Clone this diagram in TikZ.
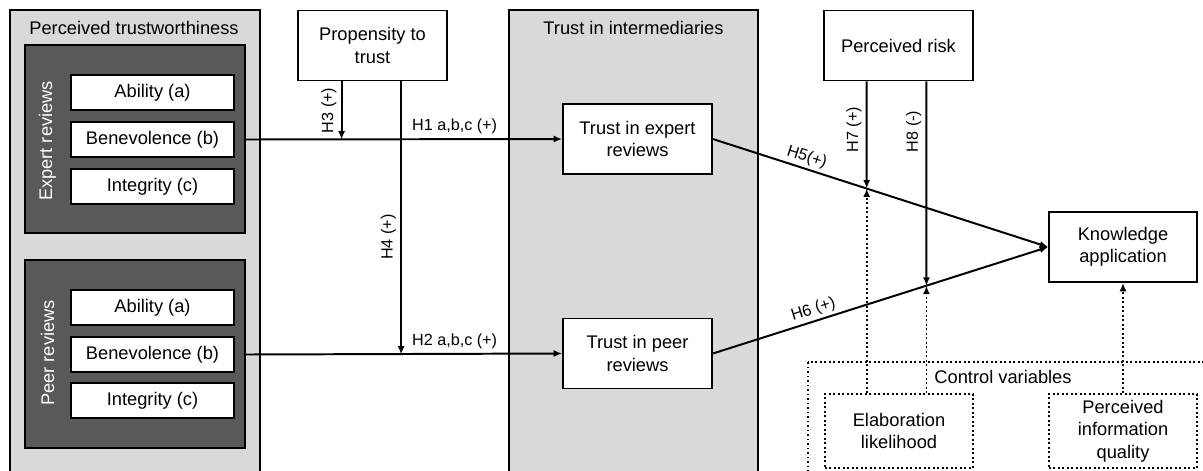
\documentclass[tikz,border=0pt]{standalone}
\usepackage{fontspec}
\setmainfont{Liberation Sans}
\usetikzlibrary{calc,arrows.meta}
\definecolor{panelgray}{HTML}{D9D9D9}
\definecolor{groupgray}{HTML}{595959}
\newcommand*{\DimColumn}[2]{% #1 = prefix, #2 = list of y/name/label
\foreach \y/\name/\lbl in {#2} {
\node [dimbox] (#1\name) at (152.5,\y) {\lbl};
}%
}

\begin{document}
\begin{tikzpicture}[x=0.025cm, y=-0.025cm,
    font=\fontsize{13}{16}\selectfont,
    panel/.style={draw=black, line width=1.2pt, fill=panelgray},
    group/.style={draw=black, line width=1.2pt, fill=groupgray, minimum width=5.5cm, minimum height=4.7cm},
    dimbox/.style={draw=black, line width=1.2pt, fill=white, minimum width=4.075cm, minimum height=0.875cm, inner sep=0pt},
    box/.style={draw=black, line width=1.2pt, fill=white, align=center, minimum width=3.725cm, minimum height=1.75cm, inner sep=2pt},
    ctrlbox/.style={draw=black, line width=1.2pt, dotted, align=center, minimum width=3.7cm, minimum height=1.85cm, inner sep=2pt},
    lbl/.style={font=\fontsize{11.5}{14}\selectfont, inner sep=3pt},
    arr/.style={line width=1.4pt, -{Latex[length=6pt,width=5pt]}},
    dotarr/.style={line width=1.2pt, dotted, -{Latex[length=6pt,width=5pt]}}]

            \useasboundingbox (0,0) rectangle (1203,470);
            \clip (0,0) rectangle (1203,470);

            \draw [panel] (10,10) rectangle (260,490);
            \node (pttitle) at (134,28) {Perceived trustworthiness};
            \draw [panel] (509,10) rectangle (758,490);
            \node (tititle) at (633.5,28) {Trust in intermediaries};
            \draw [line width=1.2pt, dotted] (808,362) rectangle (1220,490);
            \node (cvtitle) at (1003,377) {Control variables};

            \node [group] (expgrp) at (135,139) {};
            \node [group] (peergrp) at (135,354) {};
            \node [rotate=90, text=white] (explbl) at (47.5,141) {Expert reviews};
            \node [rotate=90, text=white] (peerlbl) at (47.5,353) {Peer reviews};
            \DimColumn{exp}{92.5/a/{Ability (a)}, 139.5/b/{Benevolence (b)}, 186.5/c/{Integrity (c)}}
            \DimColumn{peer}{307.5/a/{Ability (a)}, 354.5/b/{Benevolence (b)}, 400.5/c/{Integrity (c)}}

            \node [box] (prop) at (372.5,45.5) {Propensity to\\trust};
            \node [box] (trustexp) at (637.5,139) {Trust in expert\\reviews};
            \node [box] (trustpeer) at (637.5,353.5) {Trust in peer\\reviews};
            \node [box] (risk) at (898.5,45.5) {Perceived risk};
            \node [box, minimum width=3.7cm] (know) at (1123,247) {Knowledge\\application};
            \node [ctrlbox] (elab) at (899,431) {Elaboration\\likelihood};
            \node [ctrlbox] (piq) at (1123,431) {Perceived\\information\\quality};

            \coordinate (h3top) at ($(prop.south west)!0.295!(prop.south east)$);
            \coordinate (h4top) at ($(prop.south west)!0.69!(prop.south east)$);
            \coordinate (h7top) at ($(risk.south west)!0.289!(risk.south east)$);
            \coordinate (h8top) at ($(risk.south west)!0.685!(risk.south east)$);
            \coordinate (h7low) at (h7top |- piq.south);
            \coordinate (h8low) at (h8top |- piq.south);
            \coordinate (m7) at (intersection of h7top--h7low and trustexp.east--know.west);
            \coordinate (m8) at (intersection of h8top--h8low and trustpeer.east--know.west);

            \draw [arr] (expb -| expgrp.east) -- (trustexp.west)
                node [lbl, pos=0.66, above] {H1 a,b,c (+)};
            \draw [arr] (peerb -| peergrp.east) -- (trustpeer.west)
                node [lbl, pos=0.66, above] {H2 a,b,c (+)};
            \draw [arr] (h3top) -- (h3top |- expb)
                node [lbl, midway, rotate=90, anchor=south] {H3 (+)};
            \draw [arr] (h4top) -- (h4top |- peerb)
                node [lbl, pos=0.57, rotate=90, anchor=south] {H4 (+)};
            \draw [arr] (trustexp.east) -- (know.west)
                node [lbl, pos=0.27, sloped, above, inner sep=2pt] {H5(+)};
            \draw [arr] (trustpeer.east) -- (know.west)
                node [lbl, pos=0.31, sloped, above, inner sep=2pt] {H6 (+)};
            \draw [arr] (h7top) -- (m7)
                node [lbl, pos=0.45, rotate=90, anchor=south] {H7 (+)};
            \draw [arr] (h8top) -- (m8)
                node [lbl, pos=0.245, rotate=90, anchor=south] {H8 (-)};

            \draw [dotarr] (elab.north -| m7) -- (m7);
            \draw [dotarr] (elab.north -| m8) -- (m8);
            \draw [dotarr] (piq.north) -- (know.south);

        \end{tikzpicture}
\end{document}
